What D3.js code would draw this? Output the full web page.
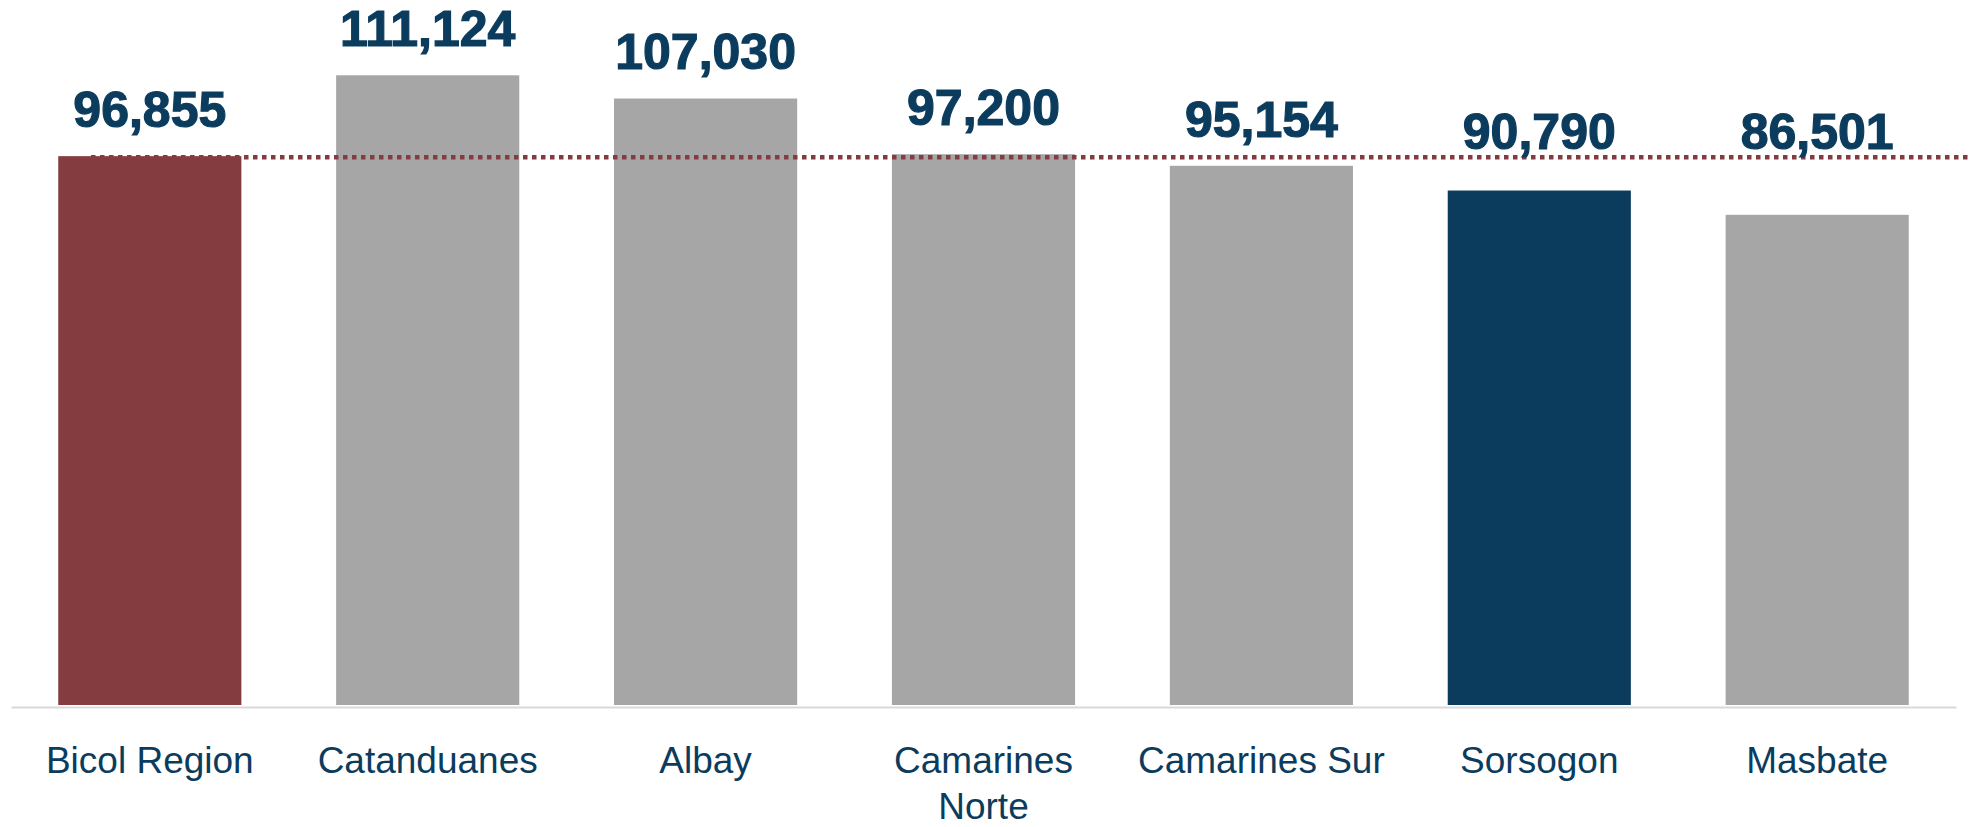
<!DOCTYPE html>
<html>
<head>
<meta charset="utf-8">
<script src="https://cdn.jsdelivr.net/npm/d3@7"></script>
<style>
  body { margin: 0; background: #fff; }
  svg { display: block; font-family: "Liberation Sans", Arial, sans-serif; }
</style>
</head>
<body>
<svg></svg>
<script>
const categories = ['Bicol Region', 'Catanduanes', 'Albay', 'Camarines Norte', 'Camarines Sur', 'Sorsogon', 'Masbate'];
const values = [96855, 111124, 107030, 97200, 95154, 90790, 86501];
const barColors = ['#843c41', '#a6a6a6', '#a6a6a6', '#a6a6a6', '#a6a6a6', '#0b3c5d', '#a6a6a6'];
const referenceValue = 96855;

const svgWidth = 1970;
const svgHeight = 827;
const textColor = '#0b3c5d';

const svg = d3.select('svg')
    .attr('width', svgWidth)
    .attr('height', svgHeight);

const xScale = d3.scaleBand()
    .domain(categories)
    .range([11, 1956])
    .paddingInner(0.341)
    .paddingOuter(0.17);

const yScale = d3.scaleLinear()
    .domain([0, 120000])
    .range([705, 25]);

const data = categories.map((c, i) => ({ name: c, value: values[i], color: barColors[i] }));

// bars
svg.selectAll('.bar')
    .data(data)
    .enter().append('rect')
    .attr('class', 'bar')
    .attr('x', d => xScale(d.name))
    .attr('y', d => yScale(d.value))
    .attr('width', xScale.bandwidth())
    .attr('height', d => yScale(0) - yScale(d.value))
    .attr('fill', d => d.color);

// baseline
const xAxis = svg.append('g')
    .attr('transform', `translate(0, ${yScale(0) + 2})`)
    .call(d3.axisBottom(xScale).tickSize(0).tickFormat(''));
xAxis.select('.domain')
    .attr('stroke', '#d9d9d9')
    .attr('stroke-width', 2);

// reference dotted line
const yRef = yScale(referenceValue) + 1;
svg.append('line')
    .attr('x1', 91)
    .attr('x2', svgWidth)
    .attr('y1', yRef)
    .attr('y2', yRef)
    .attr('stroke', '#843c41')
    .attr('stroke-width', 4.5)
    .attr('stroke-dasharray', '4.5 4.5');

// value labels
svg.selectAll('.value')
    .data(data)
    .enter().append('text')
    .attr('class', 'value')
    .attr('x', d => xScale(d.name) + xScale.bandwidth() / 2)
    .attr('y', d => Math.min(yScale(d.value) - 29, yRef - 8))
    .attr('text-anchor', 'middle')
    .attr('fill', textColor)
    .attr('stroke', textColor)
    .attr('stroke-width', 1.2)
    .attr('font-size', '50px')
    .attr('font-weight', 'bold')
    .text(d => d3.format(',')(d.value));

// category labels, wrapped to the band step
const maxWidth = xScale.step() * 0.97;
svg.selectAll('.cat')
    .data(data)
    .enter().append('text')
    .attr('class', 'cat')
    .attr('x', d => xScale(d.name) + xScale.bandwidth() / 2)
    .attr('y', 773)
    .attr('text-anchor', 'middle')
    .attr('fill', textColor)
    .attr('font-size', '37px')
    .each(function(d) {
        const text = d3.select(this);
        const x = text.attr('x');
        const words = d.name.split(' ');
        let line = [];
        let tspan = text.append('tspan').attr('x', x).attr('dy', 0);
        words.forEach(w => {
            line.push(w);
            tspan.text(line.join(' '));
            if (tspan.node().getComputedTextLength() > maxWidth && line.length > 1) {
                line.pop();
                tspan.text(line.join(' '));
                line = [w];
                tspan = text.append('tspan').attr('x', x).attr('dy', 46).text(w);
            }
        });
    });
</script>
</body>
</html>
